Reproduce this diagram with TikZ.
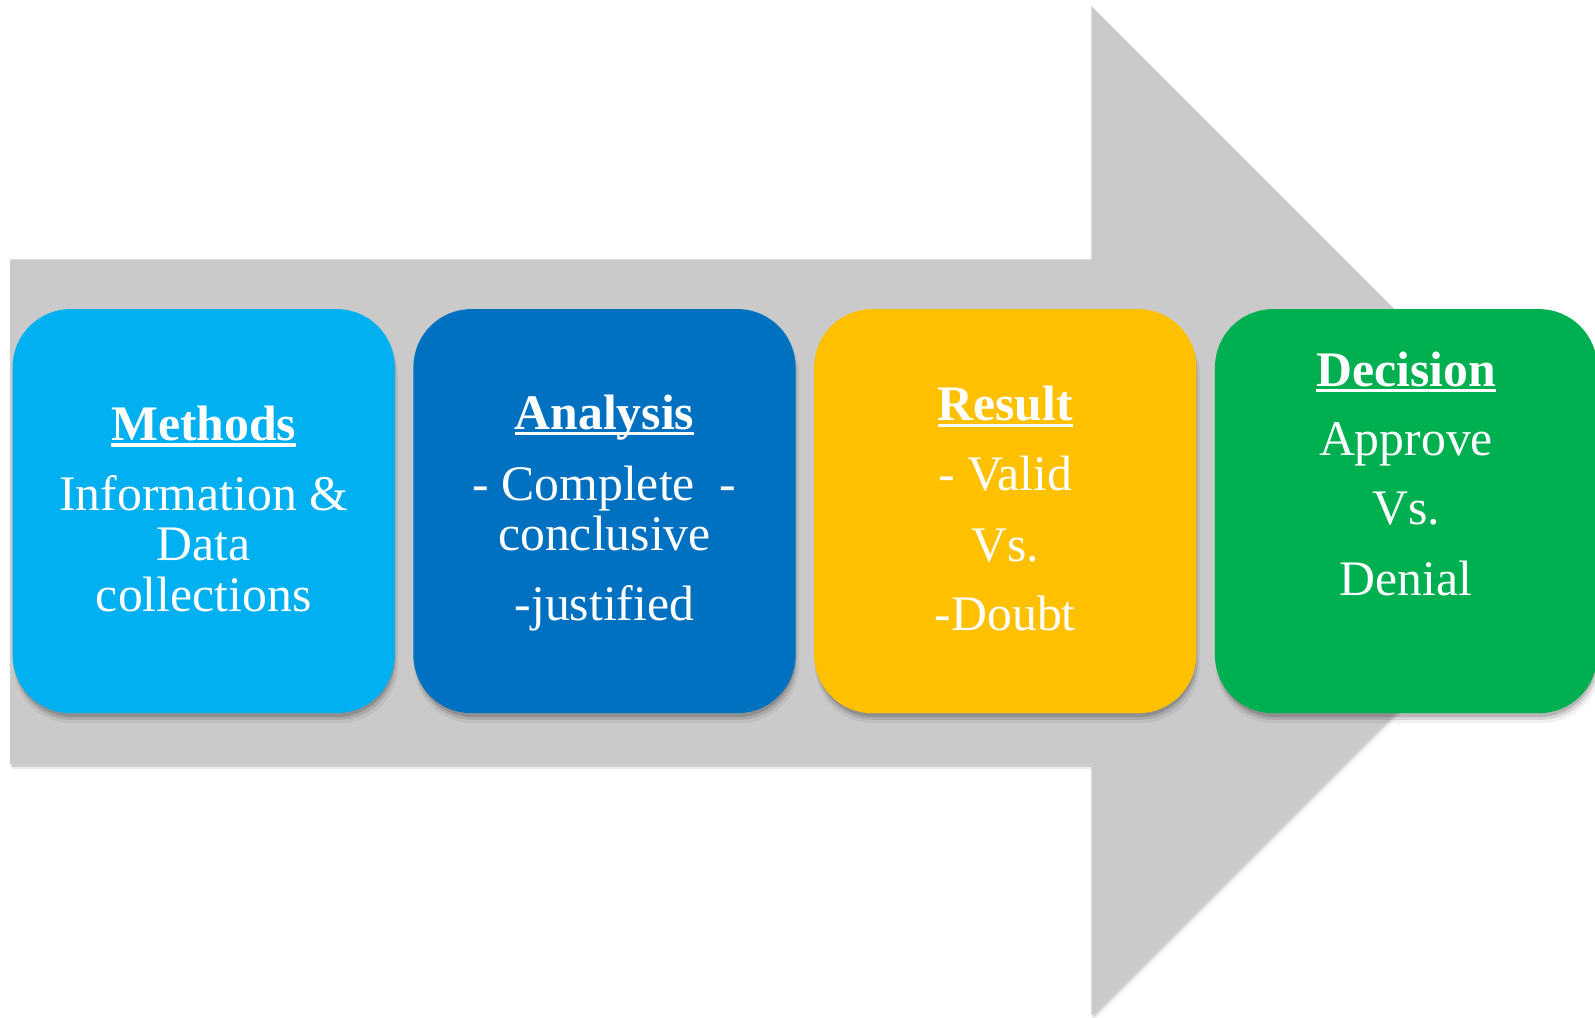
\documentclass[tikz,border=0pt]{standalone}
\usepackage{fontspec}
\setmainfont{Liberation Serif}
\usetikzlibrary{shadows}
\definecolor{arrowgray}{RGB}{202,202,202}
\definecolor{cMethods}{RGB}{0,176,240}
\definecolor{cAnalysis}{RGB}{0,112,192}
\definecolor{cResult}{RGB}{255,192,0}
\definecolor{cDecision}{RGB}{0,176,80}
\newcommand\ulin[1]{\setbox0=\hbox{#1}\rlap{\rule[-1.7pt]{\wd0}{0.85pt}}\box0}
\tikzset{
  softshadow/.style={
    general shadow={fill=black, opacity=0.06, shadow xshift=0.02cm, shadow yshift=-0.08cm, shadow scale=1.008},
    general shadow={fill=black, opacity=0.11, shadow xshift=0.015cm, shadow yshift=-0.065cm, shadow scale=1.0},
    general shadow={fill=black, opacity=0.15, shadow xshift=0.01cm, shadow yshift=-0.05cm, shadow scale=0.994}},
  arrowshadow/.style={
    general shadow={fill=black, opacity=0.08, shadow xshift=0.02cm, shadow yshift=-0.05cm},
    general shadow={fill=black, opacity=0.12, shadow xshift=0.01cm, shadow yshift=-0.03cm}},
  stagebox/.style={draw=none, rounded corners=0.57cm, minimum width=3.755cm,
    minimum height=3.97cm, inner sep=0pt, softshadow},
  txt/.style={text=white, anchor=base, inner sep=0pt,
    font=\fontsize{13.9}{16}\selectfont},
  ttl/.style={txt, font=\fontsize{13.9}{16}\selectfont\bfseries}
}
\begin{document}
\begin{tikzpicture}[x=0.01cm, y=-0.01cm]
\useasboundingbox (0,0) rectangle (1568,1000);
% big arrow
\path[fill=arrowgray, arrowshadow] (10,255) -- (1073,255) -- (1073,6) -- (1569,502)
  -- (1073,998) -- (1073,751) -- (10,751) -- cycle;
% boxes
\node[stagebox, fill=cMethods]  (methods)  at (200.25,502.5) {};
\node[stagebox, fill=cAnalysis] (analysis) at (594.25,502.5) {};
\node[stagebox, fill=cResult]   (result)   at (988.25,502.5) {};
\node[stagebox, fill=cDecision] (decision) at (1382.25,502.5) {};
% Methods
\node[ttl] (m0) at (200.25,433) {\ulin{Methods}};
\node[txt] (m1) at (200.25,502) {Information \&};
\node[txt] (m2) at (200.25,551.5) {Data};
\node[txt] (m3) at (200.25,601) {collections};
% Analysis
\node[ttl] (a0) at (594.25,422) {\ulin{Analysis}};
\node[txt] (a1) at (594.25,491.6) {- Complete\ \ -};
\node[txt] (a2) at (594.25,540.7) {conclusive};
\node[txt] (a3) at (594.25,610) {-justified};
% Result
\node[ttl] (r0) at (988.25,413.6) {\ulin{Result}};
\node[txt] (r1) at (988.25,482.4) {- Valid};
\node[txt] (r2) at (988.25,552) {Vs.};
\node[txt] (r3) at (988.25,620) {-Doubt};
% Decision
\node[ttl] (d0) at (1382.25,379.5) {\ulin{Decision}};
\node[txt] (d1) at (1382.25,447.3) {Approve};
\node[txt] (d2) at (1382.25,516) {Vs.};
\node[txt] (d3) at (1382.25,585) {Denial};
\end{tikzpicture}
\end{document}
